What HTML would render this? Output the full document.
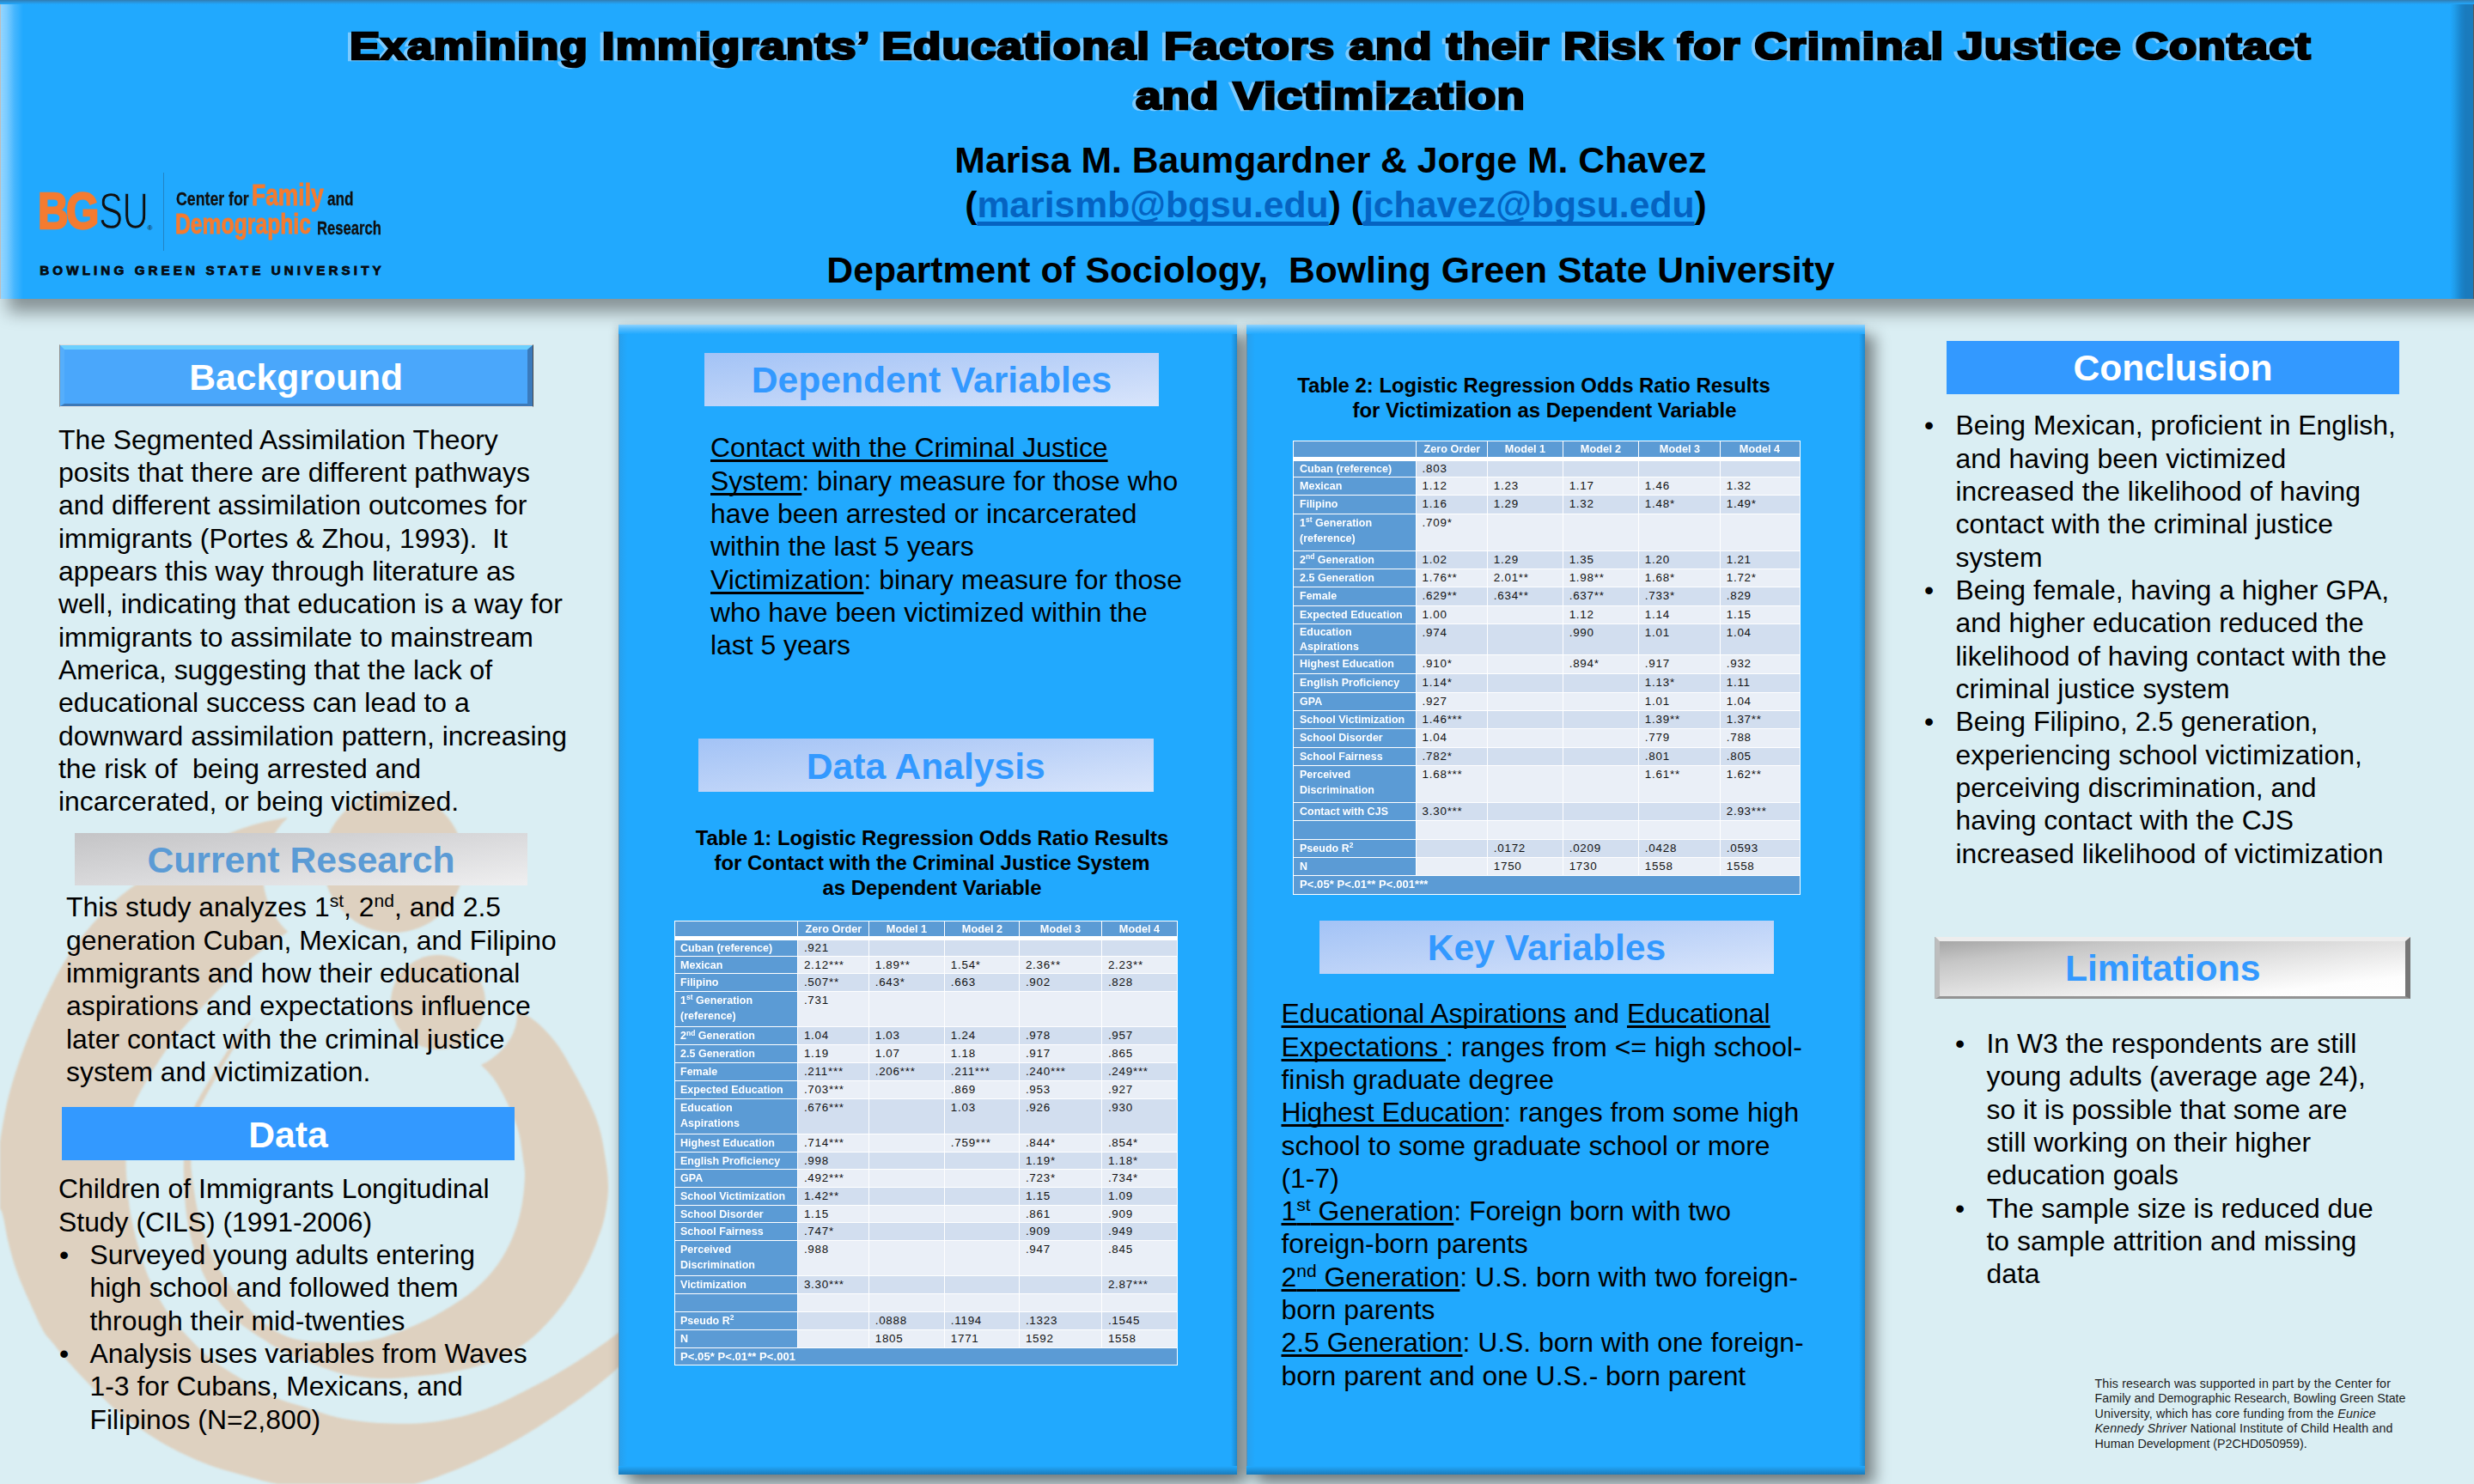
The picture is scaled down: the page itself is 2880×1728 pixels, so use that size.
<!DOCTYPE html>
<html>
<head>
<meta charset="utf-8">
<title>Poster</title>
<style>
*{box-sizing:border-box;margin:0;padding:0}
html,body{width:2880px;height:1728px;overflow:hidden}
body{position:relative;background:#DAEEF3;font-family:"Liberation Sans",sans-serif;color:#000}
.abs{position:absolute}
/* header */
#hdrS{left:9px;top:-40px;width:3000px;height:387.5px;background:#21A9FE;box-shadow:0 15.5px 19px rgba(0,0,0,.39)}
#hdr{left:0;top:0;width:2880px;height:347.5px;background:#21A9FE}
#hdr .bl{left:0;top:0;width:27px;height:100%;background:linear-gradient(90deg,#BEBEBE 0,#BEBEBE 1px,#92D5FF 1px,#7ACBFF 8px,#45B6FE 17px,#21A9FE 27px)}
#hdr .br{right:0;top:0;width:28px;height:100%;background:linear-gradient(90deg,#21A9FE 0,#1F9BE8 6px,#1A84CB 13px,#1A7BBD 18px,#1A7BBD 27px,#565656 27px)}
#hdr .bt{left:0;top:0;width:2880px;height:5px;background:linear-gradient(180deg,#2F7BB0 0,#2C8FD2 2px,#21A9FE 5px)}
.hl{left:0;width:3098px;text-align:center;font-weight:bold;white-space:nowrap}
.title{font-size:44px;line-height:58px;-webkit-text-stroke:2.6px #000}
.title.sh2{color:#7CCBFF;-webkit-text-stroke:2.6px #7CCBFF;margin-left:-4px;margin-top:1.4px}
.auth{font-size:42.7px;line-height:48px}
.auth a{color:#0563C1;text-decoration:underline;text-decoration-thickness:4.5px;text-underline-offset:5px;text-decoration-skip-ink:none}
/* panels */
.panel{background:#21A9FE;box-shadow:12px 12px 16px rgba(0,0,0,.41), -2px 2px 10px rgba(0,0,0,.16)}
.panel .pt{left:0;top:0;right:0;height:11px;background:linear-gradient(180deg,#8ED3FF 0,#5CBFFE 4px,#21A9FE 11px)}
.panel .pl{left:0;top:0;bottom:0;width:10px;background:linear-gradient(90deg,#5F8FB0 0,#5F8FB0 1px,#27A0EE 1px,#21A9FE 10px)}
.panel .pr{right:0;top:0;bottom:0;width:7px;background:linear-gradient(90deg,#21A9FE,#1B88CF)}
.panel .pb{left:0;bottom:0;right:0;height:10px;background:linear-gradient(180deg,#21A9FE,#1A7CBC)}
/* section heads */
.sh{text-align:center;font-weight:bold;font-size:42.67px;white-space:nowrap;display:flex;align-items:center;justify-content:center}
.sh span{display:block;position:relative;margin-top:.8px}
.lg{background:linear-gradient(to bottom right,#A3C3F6 0%,#BDD3F8 50%,#D9E5FB 100%);color:#3399FF}
.sb{background:#3399FF;color:#fff}
.body{font-size:31.9px;line-height:38.33px;white-space:nowrap}
.body u, .body .u{text-decoration:underline;text-decoration-thickness:3px;text-underline-offset:3.3px;text-decoration-skip-ink:none}
sup{font-size:66%;vertical-align:baseline;position:relative;top:-.52em;line-height:0}
.bul{position:absolute}
.tt{font-weight:bold;font-size:23.9px;line-height:28.9px;text-align:center;white-space:nowrap}
/* tables */
table.t{position:absolute;border-collapse:separate;border-spacing:0;table-layout:fixed;font-size:13.4px;background:#fff}
table.t td{border-right:1.3px solid #fff;border-bottom:1.3px solid #fff;padding:1px 0 0 6.5px;vertical-align:top;white-space:nowrap;overflow:hidden;line-height:17.6px;letter-spacing:.75px;color:#111}
table.t td:first-child{background:#5B9BD5;color:#fff;font-weight:bold;letter-spacing:.2px;font-size:13px;border-left:1.3px solid #fff}
table.t tr.h td{background:#5B9BD5;color:#fff;font-weight:bold;text-align:center;padding:0;letter-spacing:.2px;font-size:13px;border-top:1.3px solid #fff;border-bottom:5px solid #fff}
table.t tr.e td{background:#D2DEEF}
table.t tr.o td{background:#EAEFF7}
table.t tr.e td:first-child,table.t tr.o td:first-child{background:#5B9BD5}
table.t tr.f td{background:#5B9BD5}
table.t sup{font-size:68%;top:-.48em}
table.t .lx{display:inline-block;transform:scaleX(.915);transform-origin:0 50%;font-size:13.7px;line-height:18.3px;letter-spacing:0}
table.t .hx{display:inline-block;transform:scaleX(.93);transform-origin:50% 50%;font-size:13.7px;letter-spacing:0}
.fn{font-size:14.25px;line-height:17.6px;white-space:nowrap;color:#1c1c1c}
</style>
</head>
<body>
<svg class="abs" id="swirl" style="left:0;top:900px;filter:blur(.8px)" width="800" height="828" viewBox="0 900 800 828">
<g fill="#DED1C0">
<circle cx="458" cy="1004" r="82"/>
<circle cx="510" cy="1167" r="55"/>
<path d="M335 952 C330.5 952.8 317.0 954.8 308.0 957.0 C299.0 959.2 290.0 961.8 281.0 965.0 C272.0 968.2 263.3 971.8 254.0 976.0 C244.7 980.2 237.3 983.5 225.0 990.0 C212.7 996.5 195.0 1005.3 180.0 1015.0 C165.0 1024.7 148.3 1036.3 135.0 1048.0 C121.7 1059.7 110.0 1073.0 100.0 1085.0 C90.0 1097.0 82.5 1107.8 75.0 1120.0 C67.5 1132.2 61.5 1144.7 55.0 1158.0 C48.5 1171.3 41.8 1185.8 36.0 1200.0 C30.2 1214.2 24.7 1228.8 20.0 1243.0 C15.3 1257.2 11.3 1270.5 8.0 1285.0 C4.7 1299.5 2.2 1315.8 0.0 1330.0 C-2.2 1344.2 -4.5 1358.3 -5.0 1370.0 C-5.5 1381.7 -4.3 1392.7 -3.0 1400.0 C-1.7 1407.3 0.8 1406.0 3.0 1414.0 C5.2 1422.0 7.2 1436.7 10.0 1448.0 C12.8 1459.3 16.0 1470.8 20.0 1482.0 C24.0 1493.2 29.0 1503.8 34.0 1515.0 C39.0 1526.2 45.7 1541.2 50.0 1549.0 C54.3 1556.8 54.8 1555.6 60.0 1562.0 C65.2 1568.4 72.2 1577.7 81.0 1587.5 C89.8 1597.3 102.2 1610.5 113.0 1621.0 C123.8 1631.5 132.0 1640.2 145.5 1650.5 C159.0 1660.8 177.8 1673.8 194.0 1683.0 C210.2 1692.2 226.3 1699.3 242.5 1705.5 C258.7 1711.7 277.6 1716.2 291.0 1720.0 C304.4 1723.8 304.8 1724.3 323.0 1728.0 C341.2 1731.7 373.5 1742.0 400.0 1742.0 C426.5 1742.0 461.3 1732.7 482.0 1728.0 C502.7 1723.3 510.2 1719.3 524.0 1714.0 C537.8 1708.7 551.3 1702.7 565.0 1696.0 C578.7 1689.3 592.3 1682.0 606.0 1674.0 C619.7 1666.0 633.2 1657.3 647.0 1648.0 C660.8 1638.7 676.8 1627.3 689.0 1618.0 C701.2 1608.7 710.7 1600.8 720.0 1592.0 C729.3 1583.2 737.5 1575.3 745.0 1565.0 C752.5 1554.7 760.0 1540.8 765.0 1530.0 C770.0 1519.2 773.3 1505.0 775.0 1500.0 C769.2 1505.8 751.7 1524.5 740.0 1535.0 C728.3 1545.5 718.2 1553.5 705.0 1563.0 C691.8 1572.5 675.2 1583.3 661.0 1592.0 C646.8 1600.7 636.0 1606.8 620.0 1615.0 C604.0 1623.2 583.3 1634.3 565.0 1641.0 C546.7 1647.7 528.3 1652.2 510.0 1655.0 C491.7 1657.8 473.3 1658.1 455.0 1657.6 C436.7 1657.1 416.5 1655.1 400.0 1652.0 C383.5 1648.9 370.2 1643.5 356.0 1639.0 C341.8 1634.5 328.5 1631.2 315.0 1625.0 C301.5 1618.8 286.7 1609.2 275.0 1602.0 C263.3 1594.8 253.8 1589.0 245.0 1582.0 C236.2 1575.0 229.5 1567.8 222.0 1560.0 C214.5 1552.2 206.5 1543.7 200.0 1535.0 C193.5 1526.3 188.0 1517.2 183.0 1508.0 C178.0 1498.8 173.8 1490.0 170.0 1480.0 C166.2 1470.0 163.0 1459.0 160.0 1448.0 C157.0 1437.0 154.0 1425.3 152.0 1414.0 C150.0 1402.7 148.9 1390.3 148.0 1380.0 C147.1 1369.7 146.5 1362.0 146.5 1352.0 C146.5 1342.0 146.6 1330.3 148.0 1320.0 C149.4 1309.7 152.3 1298.3 155.0 1290.0 C157.7 1281.7 159.8 1277.8 164.0 1270.0 C168.2 1262.2 173.2 1253.5 180.0 1243.0 C186.8 1232.5 195.7 1218.8 205.0 1207.0 C214.3 1195.2 226.5 1182.3 236.0 1172.0 C245.5 1161.7 253.8 1153.3 262.0 1145.0 C270.2 1136.7 277.0 1129.0 285.0 1122.0 C293.0 1115.0 301.7 1109.2 310.0 1103.0 C318.3 1096.8 330.8 1088.0 335.0 1085.0 A91 91 0 0 1 335 952 Z"/>
<path d="M602 1179 C604.3 1179.8 610.8 1180.8 616.0 1184.0 C621.2 1187.2 627.3 1192.3 633.0 1198.0 C638.7 1203.7 644.5 1210.2 650.0 1218.0 C655.5 1225.8 660.5 1235.2 666.0 1245.0 C671.5 1254.8 677.8 1266.0 683.0 1277.0 C688.2 1288.0 693.3 1298.8 697.0 1311.0 C700.7 1323.2 703.2 1338.5 705.0 1350.0 C706.8 1361.5 707.8 1370.8 708.0 1380.0 C708.2 1389.2 707.3 1396.5 706.0 1405.0 C704.7 1413.5 703.8 1419.7 700.0 1431.0 C696.2 1442.3 690.0 1459.0 683.0 1473.0 C676.0 1487.0 667.2 1502.2 658.0 1515.0 C648.8 1527.8 637.8 1540.5 628.0 1550.0 C618.2 1559.5 609.5 1565.7 599.0 1572.0 C588.5 1578.3 577.5 1583.7 565.0 1588.0 C552.5 1592.3 537.8 1595.5 524.0 1598.0 C510.2 1600.5 495.8 1601.8 482.0 1603.0 C468.2 1604.2 454.7 1605.5 441.0 1605.0 C427.3 1604.5 412.8 1602.8 400.0 1600.0 C387.2 1597.2 375.5 1592.3 364.0 1588.0 C352.5 1583.7 341.0 1579.0 331.0 1574.0 C321.0 1569.0 313.2 1564.0 304.0 1558.0 C294.8 1552.0 284.5 1545.5 276.0 1538.0 C267.5 1530.5 259.7 1522.3 253.0 1513.0 C246.3 1503.7 240.8 1492.8 236.0 1482.0 C231.2 1471.2 227.2 1459.3 224.0 1448.0 C220.8 1436.7 218.6 1425.3 217.0 1414.0 C215.4 1402.7 215.0 1390.3 214.5 1380.0 C214.0 1369.7 213.6 1362.0 214.0 1352.0 C214.4 1342.0 215.0 1330.3 217.0 1320.0 C219.0 1309.7 223.4 1297.2 226.0 1290.0 C228.6 1282.8 229.7 1282.0 232.4 1277.0 C235.2 1272.0 238.3 1267.0 242.5 1260.0 C246.7 1253.0 251.8 1244.0 257.7 1234.7 C263.6 1225.4 271.6 1212.4 278.0 1204.0 C284.4 1195.6 293.3 1187.5 296.4 1184.2 C293.8 1188.0 286.7 1198.2 281.0 1207.0 C275.3 1215.8 267.7 1227.7 262.0 1237.0 C256.3 1246.3 251.2 1255.7 247.0 1263.0 C242.8 1270.3 239.7 1275.8 237.0 1281.0 C234.3 1286.2 233.0 1287.5 231.0 1294.0 C229.0 1300.5 226.4 1310.3 225.0 1320.0 C223.6 1329.7 222.3 1342.0 222.3 1352.0 C222.3 1362.0 223.6 1369.7 225.0 1380.0 C226.4 1390.3 228.3 1402.7 231.0 1414.0 C233.7 1425.3 236.5 1436.7 241.0 1448.0 C245.5 1459.3 251.5 1471.2 258.0 1482.0 C264.5 1492.8 271.7 1503.2 280.0 1513.0 C288.3 1522.8 298.2 1533.5 308.0 1541.0 C317.8 1548.5 327.0 1554.3 339.0 1558.0 C351.0 1561.7 364.8 1562.5 380.0 1563.0 C395.2 1563.5 414.3 1563.7 430.0 1561.0 C445.7 1558.3 459.8 1552.7 474.0 1547.0 C488.2 1541.3 502.0 1534.5 515.0 1527.0 C528.0 1519.5 541.3 1511.0 552.0 1502.0 C562.7 1493.0 571.5 1483.3 579.0 1473.0 C586.5 1462.7 592.3 1451.2 597.0 1440.0 C601.7 1428.8 604.7 1417.7 607.0 1406.0 C609.3 1394.3 610.7 1379.3 611.0 1370.0 C611.3 1360.7 609.7 1355.7 609.0 1350.0 C608.3 1344.3 607.8 1341.2 607.0 1336.0 C606.2 1330.8 605.7 1325.2 604.0 1319.0 C602.3 1312.8 599.8 1306.0 597.0 1299.0 C594.2 1292.0 590.8 1284.3 587.0 1277.0 C583.2 1269.7 578.5 1261.2 574.0 1255.0 C569.5 1248.8 562.3 1242.5 560.0 1240.0 C578 1232 603 1210 602 1179 Z"/>
</g>
</svg>
<div id="hdrS" class="abs"></div>
<div id="hdr" class="abs">
<div class="abs bl"></div><div class="abs br"></div><div class="abs bt"></div>
</div>
<div class="abs hl title sh2" style="top:24.75px"><span style="display:inline-block;letter-spacing:1px;transform:scaleX(1.201)">Examining Immigrants’ Educational Factors and their Risk for Criminal Justice Contact</span></div>
<div class="abs hl title sh2" style="top:82.95px"><span style="display:inline-block;letter-spacing:1px;transform:scaleX(1.201)">and Victimization</span></div>
<div class="abs hl title" id="t1" style="top:24.75px"><span id="t1s" style="display:inline-block;letter-spacing:1px;transform:scaleX(1.201)">Examining Immigrants’ Educational Factors and their Risk for Criminal Justice Contact</span></div>
<div class="abs hl title" id="t2" style="top:82.95px"><span id="t2s" style="display:inline-block;letter-spacing:1px;transform:scaleX(1.201)">and Victimization</span></div>
<div class="abs hl auth" id="a1" style="top:161.8px"><span id="a1s">Marisa M. Baumgardner &amp; Jorge M. Chavez</span></div>
<div class="abs hl auth" id="a2" style="top:214px"><span id="a2s" style="position:relative;left:6px">(<a>marismb@bgsu.edu</a>) (<a>jchavez@bgsu.edu</a>)</span></div>
<div class="abs hl auth" id="a3" style="top:290.2px"><span id="a3s">Department of Sociology,&nbsp; Bowling Green State University</span></div>
<!-- logo -->
<div class="abs" id="logo" style="left:0;top:0;width:500px;height:347px">
<style>
#logo div{position:absolute;white-space:nowrap;transform-origin:0 0;line-height:1;font-weight:bold}
#logo .k{color:#101010;font-size:22.3px;-webkit-text-stroke:.3px #101010}
#logo .o{color:#F47B30;-webkit-text-stroke:.9px #F47B30}
</style>
 <div id="lgBG" class="o" style="left:44.1px;top:216.9px;font-size:59px;line-height:59px;letter-spacing:-3px;transform:scaleX(.835);-webkit-text-stroke:2.4px #F47B30">BG</div>
 <div id="lgSU" style="left:115.4px;top:216.9px;font-size:59px;line-height:59px;font-weight:normal;color:#101010;letter-spacing:-1px;transform:scaleX(.715);-webkit-text-stroke:1.3px #21A9FE">SU</div>
 <div style="left:171.5px;top:261.5px;font-size:8px;color:#101010;font-weight:normal">®</div>
 <div style="left:190.2px;top:201px;width:1.2px;height:91px;background:#2383C4"></div>
 <div id="lgA" class="k" style="left:204.7px;top:221.2px;transform:scaleX(.795)">Center for</div>
 <div id="lgB" class="o" style="left:293.4px;top:209.3px;font-size:35px;transform:scaleX(.755)">Family</div>
 <div id="lgC" class="k" style="left:381.1px;top:221.2px;transform:scaleX(.77)">and</div>
 <div id="lgD" class="o" style="left:203.7px;top:244.3px;font-size:33.5px;transform:scaleX(.738)">Demographic</div>
 <div id="lgE" class="k" style="left:368.5px;top:254.9px;transform:scaleX(.745)">Research</div>
 <div id="lgL3" style="left:46.3px;top:304.5px;font-size:15.2px;line-height:20px;color:#050A10;letter-spacing:4.09px;-webkit-text-stroke:.8px #050A10">BOWLING GREEN STATE UNIVERSITY</div>
</div>
<!-- LEFT COLUMN -->
<div class="abs" id="shBgO" style="left:69px;top:401.3px;width:552.2px;height:72.4px;border-top:1px solid #DCDCDC;border-left:1.4px solid #8E8E8E;border-right:1.2px solid #484848;border-bottom:1px solid #E6E6E6"></div>
<div class="abs sh" id="shBg" style="left:70.4px;top:402.3px;width:549.6px;height:70.4px;background:#4AA7FB;color:#fff;border-top:5.5px solid #6CD0FE;border-left:5px solid #55AEFB;border-right:6px solid #3A7ABC;border-bottom:3.6px solid #3C78B6"><span style="top:.8px">Background</span></div>
<div class="abs body" id="bBg" style="left:68px;top:492.7px">The Segmented Assimilation Theory<br>posits that there are different pathways<br>and different assimilation outcomes for<br>immigrants (Portes &amp; Zhou, 1993).&nbsp; It<br>appears this way through literature as<br>well, indicating that education is a way for<br>immigrants to assimilate to mainstream<br>America, suggesting that the lack of<br>educational success can lead to a<br>downward assimilation pattern, increasing<br>the risk of&nbsp; being arrested and<br>incarcerated, or being victimized.</div>
<div class="abs sh" id="shCR" style="left:87px;top:970px;width:527px;height:61px;background:linear-gradient(to bottom right,#C4C4C6 0%,#D9D9DB 50%,#EFEFF0 100%);color:#5B9BD5"><span style="top:1px">Current Research</span></div>
<div class="abs body" id="bCR" style="left:77px;top:1037.2px">This study analyzes 1<sup>st</sup>, 2<sup>nd</sup>, and 2.5<br>generation Cuban, Mexican, and Filipino<br>immigrants and how their educational<br>aspirations and expectations influence<br>later contact with the criminal justice<br>system and victimization.</div>
<div class="abs sh sb" id="shData" style="left:72px;top:1289px;width:527px;height:61.5px"><span style="top:1px">Data</span></div>
<div class="abs body" id="bData" style="left:68px;top:1365.3px">Children of Immigrants Longitudinal<br>Study (CILS) (1991-2006)<br><span class="bl0">•</span><span class="bt0">Surveyed young adults entering</span><br><span class="bt1">high school and followed them</span><br><span class="bt1">through their mid-twenties</span><br><span class="bl0">•</span><span class="bt0">Analysis uses variables from Waves</span><br><span class="bt1">1-3 for Cubans, Mexicans, and</span><br><span class="bt1">Filipinos (N=2,800)</span></div>
<style>
#bData .bl0{display:inline-block;width:36.5px;padding-left:1px}
#bData .bt1{display:inline-block;margin-left:36.5px}
</style>
<!-- PANEL 2 -->
<div class="abs panel" id="p2" style="left:720px;top:378px;width:720px;height:1339px">
<div class="abs pl"></div><div class="abs pr"></div><div class="abs pb"></div><div class="abs pt"></div>
</div>
<div class="abs sh lg" id="shDV" style="left:820px;top:411px;width:529px;height:62px"><span style="top:0px">Dependent Variables</span></div>
<div class="abs body" id="bDV" style="left:827px;top:502.3px"><u>Contact with the Criminal Justice</u><br><u>System</u>: binary measure for those who<br>have been arrested or incarcerated<br>within the last 5 years<br><u>Victimization</u>: binary measure for those<br>who have been victimized within the<br>last 5 years</div>
<div class="abs sh lg" id="shDA" style="left:813px;top:860px;width:529.5px;height:62px"><span style="top:1px">Data Analysis</span></div>
<div class="abs tt" id="tt1" style="left:785px;top:961.7px;width:600px">Table 1: Logistic Regression Odds Ratio Results<br>for Contact with the Criminal Justice System<br>as Dependent Variable</div>
<table class="t" id="tb1" style="left:784.8px;top:1071.6px;width:585.9px">
<colgroup><col style="width:144.6px"><col style="width:82.8px"><col style="width:88.1px"><col style="width:87.1px"><col style="width:96.0px"><col style="width:87.3px"></colgroup>
<tr class="h" style="height:23.7px"><td><span class="hx"></span></td><td><span class="hx">Zero Order</span></td><td><span class="hx">Model 1</span></td><td><span class="hx">Model 2</span></td><td><span class="hx">Model 3</span></td><td><span class="hx">Model 4</span></td></tr>
<tr class="e" style="height:18.5px"><td style="line-height:16.1px"><span class="lx" style="line-height:16.1px">Cuban (reference)</span></td><td style="line-height:16.1px">.921</td><td style="line-height:16.1px"></td><td style="line-height:16.1px"></td><td style="line-height:16.1px"></td><td style="line-height:16.1px"></td></tr>
<tr class="o" style="height:20.3px"><td><span class="lx">Mexican</span></td><td>2.12***</td><td>1.89**</td><td>1.54*</td><td>2.36**</td><td>2.23**</td></tr>
<tr class="e" style="height:20.56px"><td><span class="lx">Filipino</span></td><td>.507**</td><td>.643*</td><td>.663</td><td>.902</td><td>.828</td></tr>
<tr class="o" style="height:41.7px"><td><span class="lx">1<sup>st</sup> Generation<br>(reference)</span></td><td>.731</td><td></td><td></td><td></td><td></td></tr>
<tr class="e" style="height:20.959999999999997px"><td><span class="lx">2<sup>nd</sup> Generation</span></td><td>1.04</td><td>1.03</td><td>1.24</td><td>.978</td><td>.957</td></tr>
<tr class="o" style="height:20.56px"><td><span class="lx">2.5 Generation</span></td><td>1.19</td><td>1.07</td><td>1.18</td><td>.917</td><td>.865</td></tr>
<tr class="e" style="height:20.959999999999997px"><td><span class="lx">Female</span></td><td>.211***</td><td>.206***</td><td>.211***</td><td>.240***</td><td>.249***</td></tr>
<tr class="o" style="height:20.959999999999997px"><td><span class="lx">Expected Education</span></td><td>.703***</td><td></td><td>.869</td><td>.953</td><td>.927</td></tr>
<tr class="e" style="height:41.0px"><td><span class="lx">Education<br>Aspirations</span></td><td>.676***</td><td></td><td>1.03</td><td>.926</td><td>.930</td></tr>
<tr class="o" style="height:20.959999999999997px"><td><span class="lx">Highest Education</span></td><td>.714***</td><td></td><td>.759***</td><td>.844*</td><td>.854*</td></tr>
<tr class="e" style="height:20.759999999999998px"><td><span class="lx">English Proficiency</span></td><td>.998</td><td></td><td></td><td>1.19*</td><td>1.18*</td></tr>
<tr class="o" style="height:20.759999999999998px"><td><span class="lx">GPA</span></td><td>.492***</td><td></td><td></td><td>.723*</td><td>.734*</td></tr>
<tr class="e" style="height:20.56px"><td><span class="lx">School Victimization</span></td><td>1.42**</td><td></td><td></td><td>1.15</td><td>1.09</td></tr>
<tr class="o" style="height:20.459999999999997px"><td><span class="lx">School Disorder</span></td><td>1.15</td><td></td><td></td><td>.861</td><td>.909</td></tr>
<tr class="e" style="height:20.459999999999997px"><td><span class="lx">School Fairness</span></td><td>.747*</td><td></td><td></td><td>.909</td><td>.949</td></tr>
<tr class="o" style="height:41.800000000000004px"><td><span class="lx">Perceived<br>Discrimination</span></td><td>.988</td><td></td><td></td><td>.947</td><td>.845</td></tr>
<tr class="e" style="height:20.16px"><td style="line-height:17.8px"><span class="lx" style="line-height:17.8px">Victimization</span></td><td style="line-height:17.8px">3.30***</td><td style="line-height:17.8px"></td><td style="line-height:17.8px"></td><td style="line-height:17.8px"></td><td style="line-height:17.8px">2.87***</td></tr>
<tr class="o" style="height:21.06px"><td><span class="lx"></span></td><td></td><td></td><td></td><td></td><td></td></tr>
<tr class="e" style="height:21.06px"><td><span class="lx">Pseudo R<sup>2</sup></span></td><td></td><td>.0888</td><td>.1194</td><td>.1323</td><td>.1545</td></tr>
<tr class="o" style="height:21.06px"><td><span class="lx">N</span></td><td></td><td>1805</td><td>1771</td><td>1592</td><td>1558</td></tr>
<tr class="f" style="height:20.6px"><td colspan="6" style="border-right:1.3px solid #fff"><span class="lx" style="transform:scaleX(.96)">P&lt;.05* P&lt;.01** P&lt;.001</span></td></tr>
</table>
<!-- PANEL 3 -->
<div class="abs panel" id="p3" style="left:1451px;top:378px;width:720px;height:1339px">
<div class="abs pl"></div><div class="abs pr"></div><div class="abs pb"></div><div class="abs pt"></div>
</div>
<div class="abs tt" id="tt2" style="left:1485.5px;top:434.6px;width:600px">Table 2: Logistic Regression Odds Ratio Results<br><span style="padding-left:25px">for Victimization as Dependent Variable</span></div>
<table class="t" id="tb2" style="left:1505.0px;top:512.6px;width:590.7px">
<colgroup><col style="width:144.1px"><col style="width:83.2px"><col style="width:87.9px"><col style="width:88.2px"><col style="width:94.9px"><col style="width:92.4px"></colgroup>
<tr class="h" style="height:24.7px"><td><span class="hx"></span></td><td><span class="hx">Zero Order</span></td><td><span class="hx">Model 1</span></td><td><span class="hx">Model 2</span></td><td><span class="hx">Model 3</span></td><td><span class="hx">Model 4</span></td></tr>
<tr class="e" style="height:18.5px"><td style="line-height:16.1px"><span class="lx" style="line-height:16.1px">Cuban (reference)</span></td><td style="line-height:16.1px">.803</td><td style="line-height:16.1px"></td><td style="line-height:16.1px"></td><td style="line-height:16.1px"></td><td style="line-height:16.1px"></td></tr>
<tr class="o" style="height:21.6px"><td><span class="lx">Mexican</span></td><td>1.12</td><td>1.23</td><td>1.17</td><td>1.46</td><td>1.32</td></tr>
<tr class="e" style="height:21.2px"><td><span class="lx">Filipino</span></td><td>1.16</td><td>1.29</td><td>1.32</td><td>1.48*</td><td>1.49*</td></tr>
<tr class="o" style="height:43.1px"><td><span class="lx">1<sup>st</sup> Generation<br>(reference)</span></td><td>.709*</td><td></td><td></td><td></td><td></td></tr>
<tr class="e" style="height:20.9px"><td><span class="lx">2<sup>nd</sup> Generation</span></td><td>1.02</td><td>1.29</td><td>1.35</td><td>1.20</td><td>1.21</td></tr>
<tr class="o" style="height:21.6px"><td><span class="lx">2.5 Generation</span></td><td>1.76**</td><td>2.01**</td><td>1.98**</td><td>1.68*</td><td>1.72*</td></tr>
<tr class="e" style="height:21.5px"><td><span class="lx">Female</span></td><td>.629**</td><td>.634**</td><td>.637**</td><td>.733*</td><td>.829</td></tr>
<tr class="o" style="height:21.2px"><td><span class="lx">Expected Education</span></td><td>1.00</td><td></td><td>1.12</td><td>1.14</td><td>1.15</td></tr>
<tr class="e" style="height:36.5px"><td><span class="lx" style="line-height:16.9px">Education<br>Aspirations</span></td><td>.974</td><td></td><td>.990</td><td>1.01</td><td>1.04</td></tr>
<tr class="o" style="height:21.5px"><td><span class="lx">Highest Education</span></td><td>.910*</td><td></td><td>.894*</td><td>.917</td><td>.932</td></tr>
<tr class="e" style="height:21.9px"><td><span class="lx">English Proficiency</span></td><td>1.14*</td><td></td><td></td><td>1.13*</td><td>1.11</td></tr>
<tr class="o" style="height:21.2px"><td><span class="lx">GPA</span></td><td>.927</td><td></td><td></td><td>1.01</td><td>1.04</td></tr>
<tr class="e" style="height:21.5px"><td><span class="lx">School Victimization</span></td><td>1.46***</td><td></td><td></td><td>1.39**</td><td>1.37**</td></tr>
<tr class="o" style="height:21.3px"><td><span class="lx">School Disorder</span></td><td>1.04</td><td></td><td></td><td>.779</td><td>.788</td></tr>
<tr class="e" style="height:21.2px"><td><span class="lx">School Fairness</span></td><td>.782*</td><td></td><td></td><td>.801</td><td>.805</td></tr>
<tr class="o" style="height:42.8px"><td><span class="lx">Perceived<br>Discrimination</span></td><td>1.68***</td><td></td><td></td><td>1.61**</td><td>1.62**</td></tr>
<tr class="e" style="height:21.2px"><td><span class="lx">Contact with CJS</span></td><td>3.30***</td><td></td><td></td><td></td><td>2.93***</td></tr>
<tr class="o" style="height:21.9px"><td><span class="lx"></span></td><td></td><td></td><td></td><td></td><td></td></tr>
<tr class="e" style="height:21.2px"><td><span class="lx">Pseudo R<sup>2</sup></span></td><td></td><td>.0172</td><td>.0209</td><td>.0428</td><td>.0593</td></tr>
<tr class="o" style="height:21.5px"><td><span class="lx">N</span></td><td></td><td>1750</td><td>1730</td><td>1558</td><td>1558</td></tr>
<tr class="f" style="height:21.6px"><td colspan="6" style="border-right:1.3px solid #fff"><span class="lx" style="transform:scaleX(.96)">P&lt;.05* P&lt;.01** P&lt;.001***</span></td></tr>
</table>
<div class="abs sh lg" id="shKV" style="left:1536px;top:1072px;width:529px;height:62px"><span style="top:0px">Key Variables</span></div>
<div class="abs body" id="bKV" style="left:1491.5px;top:1161.2px"><u>Educational Aspirations</u> and <u>Educational</u><br><u>Expectations&nbsp;</u>: ranges from &lt;= high school-<br>finish graduate degree<br><u>Highest Education</u>: ranges from some high<br>school to some graduate school or more<br>(1-7)<br><u>1<sup>st</sup> Generation</u>: Foreign born with two<br>foreign-born parents<br><u>2<sup>nd</sup> Generation</u>: U.S. born with two foreign-<br>born parents<br><u>2.5 Generation</u>: U.S. born with one foreign-<br>born parent and one U.S.- born parent</div>
<!-- RIGHT COLUMN -->
<div class="abs sh sb" id="shCo" style="left:2266px;top:397px;width:527px;height:62px"><span style="top:0px">Conclusion</span></div>
<div class="abs body blist" id="bCo" style="left:2245px;top:476.4px"><span class="b">•</span>Being Mexican, proficient in English,<br><i></i>and having been victimized<br><i></i>increased the likelihood of having<br><i></i>contact with the criminal justice<br><i></i>system<br><span class="b">•</span>Being female, having a higher GPA,<br><i></i>and higher education reduced the<br><i></i>likelihood of having contact with the<br><i></i>criminal justice system<br><span class="b">•</span>Being Filipino, 2.5 generation,<br><i></i>experiencing school victimization,<br><i></i>perceiving discrimination, and<br><i></i>having contact with the CJS<br><i></i>increased likelihood of victimization</div>
<div class="abs sh" id="shLi" style="left:2252.7px;top:1090.9px;width:553px;height:72.1px;background:linear-gradient(to bottom right,#A6A6A6 0%,#C6C6C6 20%,#E0E0E0 48%,#FDFDFD 82%,#FFFFFF 100%);color:#3399FF;border-top:5px solid #EDEDED;border-left:5.5px solid #BDBDBD;border-right:6.5px solid #767676;border-bottom:3.6px solid #939393;box-shadow:-0.6px 0 0 #9A9A9A"><span style="top:-1.2px;left:-11px">Limitations</span></div>
<div class="abs body blist" id="bLi" style="left:2281px;top:1196.1px"><span class="b">•</span>In W3 the respondents are still<br><i></i>young adults (average age 24),<br><i></i>so it is possible that some are<br><i></i>still working on their higher<br><i></i>education goals<br><span class="b">•</span>The sample size is reduced due<br><i></i>to sample attrition and missing<br><i></i>data</div>
<div class="abs fn" id="fn" style="left:2438.5px;top:1602.6px"><span style="letter-spacing:.15px">This research was supported in part by the Center for</span><br>Family and Demographic Research, Bowling Green State<br><span style="letter-spacing:.17px">University, which has core funding from the <em>Eunice</em></span><br><span style="letter-spacing:.12px"><em>Kennedy Shriver</em> National Institute of Child Health and</span><br>Human Development (P2CHD050959).</div>
<style>
.blist .b{display:inline-block;width:36.5px;margin-left:-5px}
.blist i{display:inline-block;width:31.5px}
</style>
</body>
</html>
